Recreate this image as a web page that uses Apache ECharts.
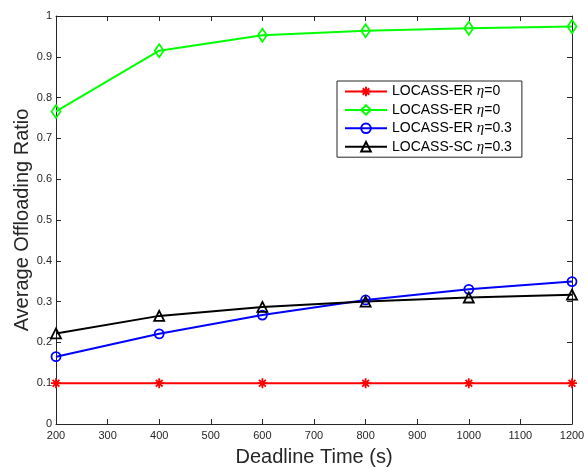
<!DOCTYPE html>
<html>
<head>
<meta charset="utf-8">
<script src="https://cdn.jsdelivr.net/npm/echarts@6/dist/echarts.min.js"></script>
<style>html,body{margin:0;padding:0;background:#fff;}#c{width:588px;height:467px;}</style>
</head>
<body>
<div id="c"></div>
<script>
var deadlines = [200, 400, 600, 800, 1000, 1200];
var erEta0Red = [0.1, 0.1, 0.1, 0.1, 0.1, 0.1];
var erEta0Green = [0.766, 0.915, 0.953, 0.964, 0.970, 0.974];
var erEta03Blue = [0.165, 0.221, 0.267, 0.304, 0.330, 0.349];
var scEta03Black = [0.222, 0.265, 0.287, 0.300, 0.310, 0.317];
var legendLabels = ['LOCASS-ER {i|η}=0', 'LOCASS-ER {i|η}=0', 'LOCASS-ER {i|η}=0.3', 'LOCASS-SC {i|η}=0.3'];
var seriesKeys = ['s1', 's2', 's3', 's4'];

function pairs(ys) { return deadlines.map(function (x, i) { return [x, ys[i]]; }); }

var axisCol = '#262626';
var asterisk = 'path://M0,5L10,5M5,0L5,10M1.6,1.6L8.4,8.4M8.4,1.6L1.6,8.4';

function mk(key, ys, col, symbol, size) {
  return {
    name: key, type: 'line', data: pairs(ys), xAxisIndex: 0, yAxisIndex: 0,
    color: col, symbol: symbol, symbolSize: size, showAllSymbol: true,
    lineStyle: { color: col, width: 2 },
    itemStyle: { color: 'rgba(255,255,255,0)', borderColor: col, borderWidth: 1.8 },
    emphasis: { disabled: true }, animation: false, z: 3
  };
}

var chart = echarts.init(document.getElementById('c'));
chart.setOption({
  animation: false,
  grid: { left: 56, right: 16, top: 16, bottom: 43, containLabel: false, outerBoundsMode: 'none' },
  legend: {
    data: seriesKeys, orient: 'vertical', left: 337, top: 81,
    backgroundColor: '#fff', borderColor: axisCol, borderWidth: 1,
    padding: [3, 10, 3, 7], itemWidth: 42, itemHeight: 12, itemGap: 3.4,
    formatter: function (n) { return legendLabels[seriesKeys.indexOf(n)]; },
    textStyle: {
      fontFamily: 'Liberation Sans, Arial, sans-serif', fontSize: 14, color: '#000', lineHeight: 14,
      rich: { i: { fontFamily: 'Liberation Serif, Times New Roman, serif', fontStyle: 'italic', fontSize: 15, color: '#000' } }
    }
  },
  xAxis: [{
    type: 'value', min: 200, max: 1200, interval: 100, position: 'bottom',
    name: 'Deadline Time (s)', nameLocation: 'middle', nameGap: 23, nameMoveOverlap: false,
    nameTextStyle: { fontFamily: 'Liberation Sans, Arial, sans-serif', fontSize: 20, color: axisCol },
    axisLine: { show: true, onZero: false, lineStyle: { color: axisCol, width: 1 } },
    axisTick: { show: true, inside: true, length: 5, lineStyle: { color: axisCol } },
    axisLabel: { margin: 6, fontFamily: 'Liberation Sans, Arial, sans-serif', fontSize: 11, color: axisCol,
      formatter: function (v) { return String(v); } },
    splitLine: { show: false }
  }, {
    type: 'value', min: 200, max: 1200, interval: 100, position: 'top',
    axisLine: { show: true, onZero: false, lineStyle: { color: axisCol, width: 1 } },
    axisTick: { show: true, inside: true, length: 5, lineStyle: { color: axisCol } },
    axisLabel: { show: false }, splitLine: { show: false }
  }],
  yAxis: [{
    type: 'value', min: 0, max: 1, interval: 0.1, position: 'left',
    name: 'Average Offloading Ratio', nameLocation: 'middle', nameGap: 24, nameMoveOverlap: false,
    nameTextStyle: { fontFamily: 'Liberation Sans, Arial, sans-serif', fontSize: 20, color: axisCol },
    axisLine: { show: true, onZero: false, lineStyle: { color: axisCol, width: 1 } },
    axisTick: { show: true, inside: true, length: 5, lineStyle: { color: axisCol } },
    axisLabel: { margin: 4, fontFamily: 'Liberation Sans, Arial, sans-serif', fontSize: 11, color: axisCol,
      formatter: function (v) { return String(Math.round(v * 10) / 10); } },
    splitLine: { show: false }
  }, {
    type: 'value', min: 0, max: 1, interval: 0.1, position: 'right',
    axisLine: { show: true, onZero: false, lineStyle: { color: axisCol, width: 1 } },
    axisTick: { show: true, inside: true, length: 5, lineStyle: { color: axisCol } },
    axisLabel: { show: false }, splitLine: { show: false }
  }],
  series: [
    mk('s1', erEta0Red, '#ff0000', asterisk, 10),
    mk('s2', erEta0Green, '#00ff00', 'diamond', [9, 13]),
    mk('s3', erEta03Blue, '#0000ff', 'circle', 9),
    mk('s4', scEta03Black, '#000000', 'triangle', 10)
  ]
});
</script>
</body>
</html>
